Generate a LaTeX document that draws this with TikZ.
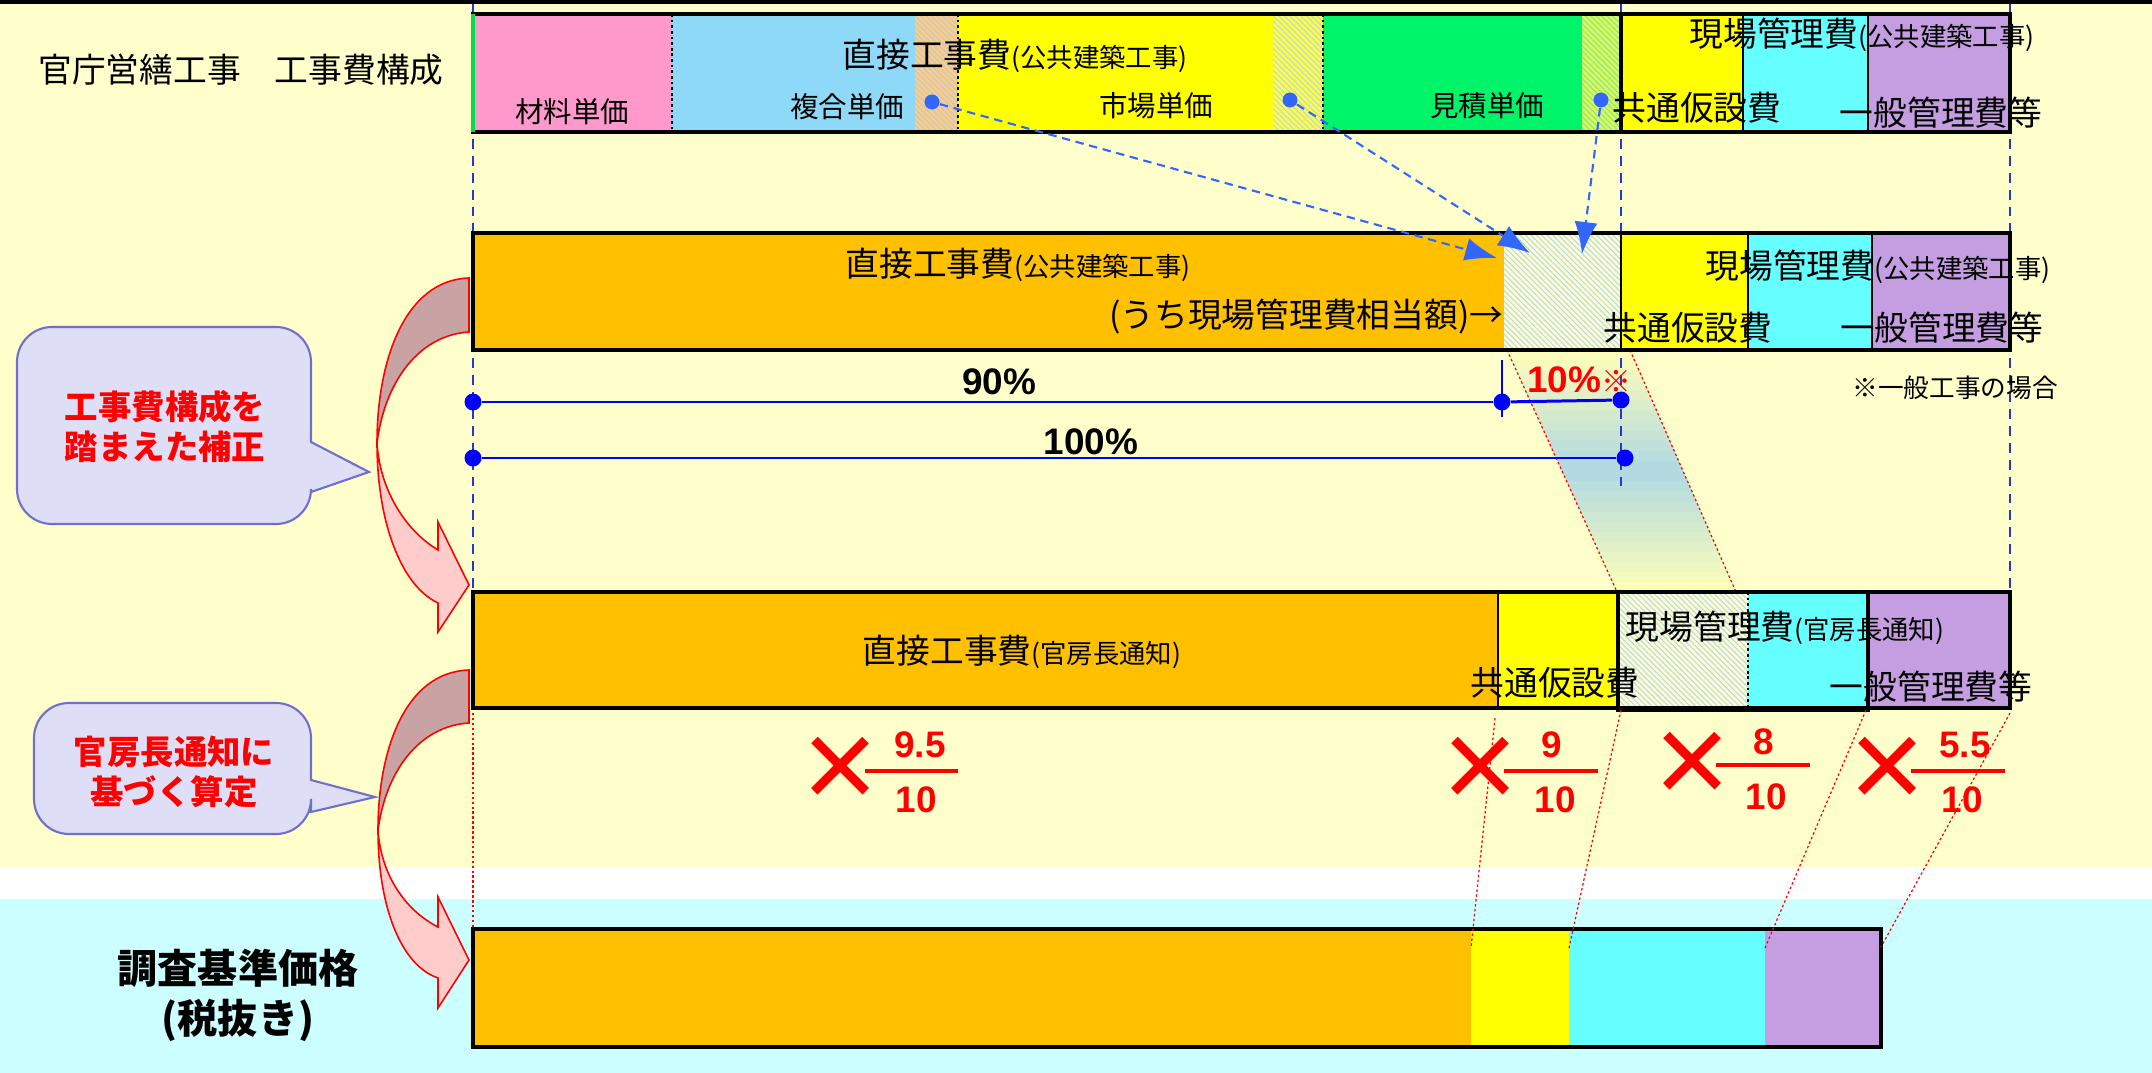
\documentclass[tikz,border=0pt]{standalone}
\usepackage{fontspec}
\setmainfont{Noto Sans CJK JP}
\newfontfamily\numfont{Liberation Sans}
\usetikzlibrary{arrows.meta,patterns.meta}

\definecolor{bgyel}{HTML}{FFFFCC}
\definecolor{bgcyan}{HTML}{CCFFFF}
\definecolor{cpink}{HTML}{FF99CC}
\definecolor{clblue}{HTML}{8DD9F7}
\definecolor{cyel}{HTML}{FFFF00}
\definecolor{cgreen}{HTML}{00F46A}
\definecolor{ccyan}{HTML}{66FFFF}
\definecolor{cpurple}{HTML}{C49EE0}
\definecolor{corange}{HTML}{FFC000}
\definecolor{ptblue}{HTML}{3366FF}
\definecolor{dimblue}{HTML}{0000FF}
\definecolor{guideblue}{HTML}{2438D0}
\definecolor{callfill}{HTML}{DEDEF7}
\definecolor{callline}{HTML}{7070CC}
\definecolor{bentback}{HTML}{C9A3A3}
\definecolor{bentfront}{HTML}{FFCCCC}
\definecolor{hpeach}{HTML}{F8C474}
\definecolor{hgray}{HTML}{C8DCF2}
\definecolor{hyel}{HTML}{FFFF40}
\definecolor{hblue}{HTML}{B8D4F0}
\definecolor{hlime}{HTML}{D8FF50}
\definecolor{hgreen}{HTML}{8CDCA0}
\definecolor{hpale}{HTML}{FFFFC8}
\definecolor{hsky}{HTML}{B4D6F8}
\definecolor{bandtop}{HTML}{FFFFB8}
\definecolor{bandmid}{HTML}{B0D8E2}
\definecolor{edgegreen}{HTML}{00DC50}

\newcommand\kakko[1]{{\fontsize{7.5}{9}\selectfont(#1)}}

\begin{document}
\begin{tikzpicture}[x=0.01cm,y=-0.01cm]
  %----- styles
  \tikzset{
    lab/.style    ={inner sep=0pt,font=\fontsize{9.6}{11}\selectfont},
    sub/.style    ={inner sep=0pt,font=\fontsize{8.1}{10}\selectfont},
    note/.style   ={inner sep=0pt,align=center,text=red,font=\bfseries\fontsize{9.5}{11.4}\selectfont},
    pct/.style    ={inner sep=0pt,font=\numfont\bfseries\fontsize{10.5}{12}\selectfont},
    num/.style    ={pct,text=red},
    times/.style  ={inner sep=0pt,text=red,font=\numfont\fontsize{37}{37}\selectfont},
    fracbar/.style={draw=red,line width=1.1pt},
    frame/.style  ={draw=black,line width=0.9pt},
    thin/.style   ={draw=black,line width=0.4pt},
    dots/.style   ={draw=black,line width=0.4pt,dash pattern=on 0.8pt off 0.8pt},
    hatch/.style 2 args={preaction={fill=#1},pattern={Lines[angle=-45,distance=1.1pt,line width=0.3pt]},pattern color=#2},
    ptdot/.style  ={circle,fill=ptblue,inner sep=0pt,minimum size=0.15cm},
    ptr/.style    ={draw=ptblue,line width=0.6pt,dash pattern=on 2.4pt off 1.6pt,-{Latex[length=3.2mm,width=2.3mm]}},
    dimdot/.style ={circle,fill=dimblue,inner sep=0pt,minimum size=0.17cm},
    dim/.style    ={draw=dimblue,line width=0.85pt},
    guide/.style  ={draw=guideblue,line width=0.6pt,dash pattern=on 2.8pt off 2pt},
    link/.style   ={draw=red,line width=0.35pt,dash pattern=on 0.7pt off 0.7pt},
    callout/.style={fill=callfill,draw=callline,line width=0.6pt},
    bentb/.style  ={fill=bentback,draw=red,line width=0.45pt},
    bentf/.style  ={fill=bentfront,draw=red,line width=0.45pt}
  }
  \useasboundingbox (0,0) rectangle (2152,1073);

  %----- background
  \fill[white]  (0,0) rectangle (2152,1073);
  \fill[black]  (0,0) rectangle (2152,4);
  \fill[bgyel]  (0,4) rectangle (2152,867);
  \fill[bgcyan] (0,899) rectangle (2152,1073);

  % band from row 2 to row 3 (yellow - blue - yellow)
  \foreach \i in {0,...,23}{
    \pgfmathsetmacro\ya{\i/24*242}
    \pgfmathsetmacro\yb{(\i+1)/24*242+0.5}
    \pgfmathsetmacro\mix{100-abs(\i+0.5-12)/12*100}
    \fill[bandmid!\mix!bandtop]
      ({1507+\ya/242*110},{350+\ya}) -- ({1630+\ya/242*106},{350+\ya})
      -- ({1630+\yb/242*106},{350+\yb}) -- ({1507+\yb/242*110},{350+\yb}) -- cycle;
  }
  \draw[link] (1507,350) -- (1617,592);
  \draw[link] (1630,350) -- (1736,592);

  %----- guides
  \coordinate (gl0) at (473,4);    \coordinate (gl1) at (473,592);
  \coordinate (gm0) at (1621,4);   \coordinate (gm1) at (1621,487);
  \coordinate (gr0) at (2010,4);   \coordinate (gr1) at (2010,592);
  \draw[guide] (gl0) -- (gl1);
  \draw[guide] (gm0) -- (gm1);
  \draw[guide] (gr0) -- (gr1);

  %----- row 1 : 官庁営繕工事
  \node[lab] (title) at (241,70) {官庁営繕工事　工事費構成};
  \fill[cpink]   (473,14) rectangle (672,132);
  \fill[clblue]  (672,14) rectangle (915,132);
  \fill[hatch={hpeach}{hgray}] (915,14) rectangle (958,132);
  \fill[cyel]    (958,14) rectangle (1273,132);
  \fill[hatch={hyel}{hblue}] (1273,14) rectangle (1323,132);
  \fill[cgreen]  (1323,14) rectangle (1582,132);
  \fill[hatch={hlime}{hgreen}] (1582,14) rectangle (1621,132);
  \fill[cyel]    (1621,14) rectangle (1743,132);
  \fill[ccyan]   (1743,14) rectangle (1868,132);
  \fill[cpurple] (1868,14) rectangle (2010,132);
  \draw[dots] (672,14) -- (672,132);
  \draw[dots] (958,14) -- (958,132);
  \draw[dots] (1323,14) -- (1323,132);
  \draw[thin] (1743,14) -- (1743,132);
  \draw[thin] (1868,14) -- (1868,132);
  \draw[frame] (473,14) rectangle (2010,132);
  \draw[frame] (1621,14) -- (1621,132);
  \draw[draw=edgegreen,line width=0.9pt] (473,14) -- (473,132);

  \node[lab] (r1dir)  at (1015,56)  {直接工事費\kakko{公共建築工事}};
  \node[sub] (r1mat)  at (572,112)  {材料単価};
  \node[sub] (r1comp) at (847,107)  {複合単価};
  \node[sub] (r1mkt)  at (1156,106) {市場単価};
  \node[sub] (r1est)  at (1487,106) {見積単価};
  \node[lab] (r1site) at (1862,35)  {現場管理費\kakko{公共建築工事}};
  \node[lab] (r1com)  at (1697,108) {共通仮設費};
  \node[lab] (r1gen)  at (1941,113) {一般管理費等};

  \node[ptdot] (p1) at (932,102) {};
  \node[ptdot] (p2) at (1290,100) {};
  \node[ptdot] (p3) at (1601,100) {};

  %----- row 2 : 公共建築工事
  \fill[corange] (473,233) rectangle (1504,350);
  \fill[hatch={hpale}{hsky}] (1504,233) rectangle (1621,350);
  \fill[cyel]    (1621,233) rectangle (1748,350);
  \fill[ccyan]   (1748,233) rectangle (1872,350);
  \fill[cpurple] (1872,233) rectangle (2010,350);
  \draw[thin] (1621,233) -- (1621,350);
  \draw[thin] (1748,233) -- (1748,350);
  \draw[thin] (1872,233) -- (1872,350);
  \draw[frame] (473,233) rectangle (2010,350);

  \node[lab] (r2dir)  at (1018,265) {直接工事費\kakko{公共建築工事}};
  \node[lab,anchor=east] (r2share) at (1504,317) {(うち現場管理費相当額)→};
  \node[lab] (r2site) at (1878,267) {現場管理費\kakko{公共建築工事}};
  \node[lab] (r2com)  at (1688,328) {共通仮設費};
  \node[lab] (r2gen)  at (1942,328) {一般管理費等};

  \coordinate (q1) at (1497,258);
  \coordinate (q2) at (1530,253);
  \coordinate (q3) at (1582,254);
  \draw[ptr] (p1) -- (q1);
  \draw[ptr] (p2) -- (q2);
  \draw[ptr] (p3) -- (q3);

  %----- ratios
  \node[dimdot] (a0)   at (473,402) {};
  \node[dimdot] (a90)  at (1502,402) {};
  \node[dimdot] (a10)  at (1621,400) {};
  \node[dimdot] (b0)   at (473,458) {};
  \node[dimdot] (b100) at (1625,458) {};
  \draw[dim] (a0) -- (a90);
  \draw[dim] (a90) -- (a10);
  \draw[dim] (b0) -- (b100);
  \draw[draw=dimblue,line width=0.45pt] (1502,360) -- (1502,417);
  \node[pct] (t90)  at (999,382)  {90\%};
  \node[num] (t10)  at (1579,380) {10\%{\normalfont\bfseries\fontsize{8.5}{9}\selectfont ※}};
  \node[pct] (t100) at (1091,442) {100\%};
  \node[inner sep=0pt,font=\fontsize{7.3}{9}\selectfont] (caseNote) at (1955,388) {※一般工事の場合};

  %----- row 3 : 官房長通知
  \fill[corange] (473,592) rectangle (1498,708);
  \fill[cyel]    (1498,592) rectangle (1618,708);
  \fill[hatch={hpale}{hsky}] (1618,592) rectangle (1748,708);
  \fill[ccyan]   (1748,592) rectangle (1868,708);
  \fill[cpurple] (1868,592) rectangle (2010,708);
  \draw[thin] (1498,592) -- (1498,708);
  \draw[dots] (1748,592) -- (1748,708);
  \draw[frame] (473,592) rectangle (2010,708);
  \draw[draw=black,line width=1.4pt] (1618,592) rectangle (1868,710);

  \node[lab] (r3dir)  at (1022,652) {直接工事費\kakko{官房長通知}};
  \node[lab] (r3site) at (1785,628) {現場管理費\kakko{官房長通知}};
  \node[lab] (r3com)  at (1555,683) {共通仮設費};
  \node[lab] (r3gen)  at (1931,687) {一般管理費等};

  %----- multipliers
  \node[times] (x1) at (840,773)  {×};
  \node[num]   (n1) at (920,745)  {9.5};
  \draw[fracbar] (865,771) -- (958,771);
  \node[num]   (m1) at (916,800)  {10};
  \node[times] (x2) at (1480,773) {×};
  \node[num]   (n2) at (1552,745) {9};
  \draw[fracbar] (1504,771) -- (1598,771);
  \node[num]   (m2) at (1555,800) {10};
  \node[times] (x3) at (1692,768) {×};
  \node[num]   (n3) at (1764,742) {8};
  \draw[fracbar] (1716,765) -- (1810,765);
  \node[num]   (m3) at (1766,797) {10};
  \node[times] (x4) at (1887,773) {×};
  \node[num]   (n4) at (1965,745) {5.5};
  \draw[fracbar] (1911,771) -- (2005,771);
  \node[num]   (m4) at (1962,800) {10};

  %----- callouts and bent arrows
  \draw[callout,rounded corners=0.35cm] (311,442) -- (311,327) -- (17,327) -- (17,524) -- (311,524) [sharp corners] -- (311,492) -- (369,472) -- cycle;
  \node[note] (callA) at (165,427) {工事費構成を\\踏まえた補正};
  \draw[callout,rounded corners=0.35cm] (311,780) -- (311,703) -- (34,703) -- (34,834) -- (311,834) [sharp corners] -- (311,812) -- (375,797) -- cycle;
  \node[note] (callB) at (174,772) {官房長通知に\\基づく算定};

  \draw[bentb] (469,278) .. controls (405,280) and (377,360) .. (377,443)
               .. controls (385,380) and (420,335) .. (469,332) -- cycle;
  \draw[bentf] (377,443) .. controls (377,520) and (400,585) .. (438,603)
               -- (438,632) -- (469,585) -- (438,522) -- (438,550)
               .. controls (405,530) and (380,490) .. (377,443) -- cycle;
  \draw[bentb] (469,670) .. controls (405,672) and (378,750) .. (378,830)
               .. controls (386,770) and (420,726) .. (469,723) -- cycle;
  \draw[bentf] (378,830) .. controls (378,905) and (400,965) .. (438,978)
               -- (438,1008) -- (469,960) -- (438,897) -- (438,927)
               .. controls (405,910) and (381,875) .. (378,830) -- cycle;

  %----- row 4 : 調査基準価格
  \node[inner sep=0pt,align=center,font=\bfseries\fontsize{11.4}{14.2}\selectfont] (base) at (238,995) {調査基準価格\\(税抜き)};
  \fill[corange] (473,929) rectangle (1471,1047);
  \fill[cyel]    (1471,929) rectangle (1569,1047);
  \fill[ccyan]   (1569,929) rectangle (1765,1047);
  \fill[cpurple] (1765,929) rectangle (1881,1047);
  \draw[draw=black,line width=1.4pt] (473,929) rectangle (1881,1047);

  \coordinate (k0) at (473,713);  \coordinate (l0) at (473,927);
  \coordinate (k1) at (1495,718); \coordinate (l1) at (1471,948);
  \coordinate (k2) at (1621,710); \coordinate (l2) at (1569,948);
  \coordinate (k3) at (1866,710); \coordinate (l3) at (1765,948);
  \coordinate (k4) at (2010,713); \coordinate (l4) at (1881,947);
  \draw[link] (k0) -- (l0);
  \draw[link] (k1) -- (l1);
  \draw[link] (k2) -- (l2);
  \draw[link] (k3) -- (l3);
  \draw[link] (k4) -- (l4);
\end{tikzpicture}
\end{document}
